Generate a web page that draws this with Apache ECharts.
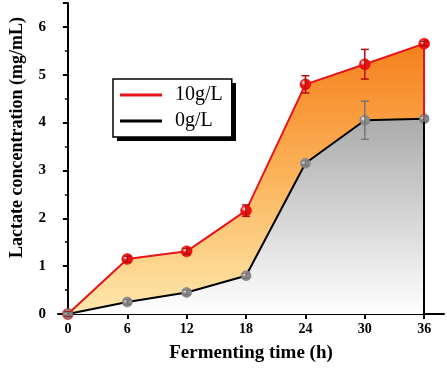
<!DOCTYPE html>
<html>
<head>
<meta charset="utf-8">
<script src="https://cdn.jsdelivr.net/npm/echarts@6/dist/echarts.min.js"></script>
<style>
  html, body { margin: 0; padding: 0; background: #fff; }
  #chart { width: 447px; height: 368px; }
</style>
</head>
<body>
<div id="chart"></div>
<script>
  // fermenting time (h)
  let hours = [0, 6, 12, 18, 24, 30, 36];
  let xTicks = [0, 6, 12, 18, 24, 30, 36];
  // lactate, 10g/L
  let lac10 = [0, 1.15, 1.31, 2.16, 4.80, 5.22, 5.65];
  let err10 = [0.05, 0.06, 0.06, 0.12, 0.18, 0.31, 0.05];
  // lactate, 0g/L
  let lac0 = [0, 0.25, 0.45, 0.80, 3.15, 4.05, 4.08];
  let err0 = [0.03, 0.05, 0.05, 0.05, 0.05, 0.40, 0.05];

  let font = '"Liberation Serif", "Times New Roman", serif';

  function pairs(xs, ys) {
    return xs.map(function (x, i) { return [x, ys[i]]; });
  }

  function sphere(c) {
    return {
      type: 'radial', x: 0.35, y: 0.35, r: 0.7,
      colorStops: [{offset: 0, color: '#ffffff'}, {offset: 0.35, color: c}, {offset: 1, color: c}]
    };
  }

  function errorBars(name, ys, es, color) {
    return {
      name: name + ' err',
      type: 'custom',
      z: 5,
      data: hours.map(function (x, i) { return [x, ys[i] - es[i], ys[i] + es[i]]; }),
      renderItem: function (params, api) {
        let lo = api.coord([api.value(0), api.value(1)]);
        let hi = api.coord([api.value(0), api.value(2)]);
        let w = 4;
        let st = {stroke: color, lineWidth: 1.5};
        return {
          type: 'group',
          children: [
            {type: 'line', shape: {x1: lo[0], y1: lo[1], x2: hi[0], y2: hi[1]}, style: st},
            {type: 'line', shape: {x1: lo[0] - w, y1: lo[1], x2: lo[0] + w, y2: lo[1]}, style: st},
            {type: 'line', shape: {x1: hi[0] - w, y1: hi[1], x2: hi[0] + w, y2: hi[1]}, style: st}
          ]
        };
      }
    };
  }

  let n = hours.length - 1;
  let myChart = echarts.init(document.getElementById('chart'));
  let option = {
    backgroundColor: '#ffffff',
    animation: false,
    grid: {left: 57, right: 3, top: 3, bottom: 53},
    // drop shadow behind the legend box
    graphic: [{
      type: 'rect',
      z: 1,
      left: 117,
      top: 83,
      shape: {width: 119, height: 58},
      style: {fill: '#000'}
    }],
    legend: {
      orient: 'vertical',
      left: 113,
      top: 79,
      z: 10,
      padding: [5, 9, 5, 7],
      itemGap: 4,
      itemWidth: 42,
      itemHeight: 3,
      icon: 'rect',
      backgroundColor: '#fff',
      borderColor: '#000',
      borderWidth: 1.5,
      borderRadius: 0,
      textStyle: {fontFamily: font, fontSize: 20, lineHeight: 22, color: '#000', padding: [0, 0, 0, 8]},
      data: [
        {name: '10g/L', icon: 'rect', itemStyle: {color: '#e8141b', borderWidth: 0}},
        {name: '0g/L', icon: 'rect', itemStyle: {color: '#000', borderWidth: 0}}
      ]
    },
    xAxis: {
      type: 'value',
      min: -1,
      max: 38,
      interval: 6,
      name: 'Fermenting time (h)',
      nameLocation: 'middle',
      nameGap: 30,
      nameTextStyle: {fontFamily: font, fontSize: 19, fontWeight: 'bold', color: '#000'},
      axisLine: {lineStyle: {color: '#000', width: 2}},
      axisTick: {show: true, length: 5, lineStyle: {width: 2}, customValues: xTicks},
      axisLabel: {
        fontFamily: font, fontSize: 14, fontWeight: 'bold', color: '#000', margin: 8,
        customValues: xTicks
      },
      splitLine: {show: false}
    },
    yAxis: {
      type: 'value',
      min: 0,
      max: 6.5,
      interval: 1,
      name: 'Lactate concentration (mg/mL)',
      nameLocation: 'middle',
      nameGap: 32,
      nameTextStyle: {fontFamily: font, fontSize: 18, fontWeight: 'bold', color: '#000', padding: [0, 0, 0, 42]},
      axisLine: {show: true, lineStyle: {color: '#000', width: 2}},
      axisTick: {show: true, length: 5, lineStyle: {width: 2}},
      minorTick: {show: true, splitNumber: 2, length: 3, lineStyle: {color: '#000', width: 1.5}},
      axisLabel: {
        fontFamily: font, fontSize: 15, fontWeight: 'bold', color: '#000', margin: 12,
        formatter: function (v) { return Number.isInteger(v) ? String(v) : ''; }
      },
      splitLine: {show: false}
    },
    series: [
      {
        name: '10g/L',
        type: 'line',
        z: 2,
        legendIcon: 'rect',
        data: pairs(hours, lac10),
        symbol: 'circle',
        symbolSize: 11,
        itemStyle: {color: sphere('#ee1111'), borderColor: '#e00', borderWidth: 0.5},
        lineStyle: {color: '#e8141b', width: 2},
        areaStyle: {
          opacity: 1,
          color: {
            type: 'linear', x: 0, y: 0, x2: 0, y2: 1,
            colorStops: [
              {offset: 0, color: '#f5801c'},
              {offset: 0.5, color: '#fbb55c'},
              {offset: 1, color: '#fee8ad'}
            ]
          }
        },
        markLine: {
          silent: true,
          symbol: 'none',
          label: {show: false},
          lineStyle: {color: '#e8141b', width: 2, type: 'solid'},
          data: [[{coord: [hours[n], 0]}, {coord: [hours[n], lac10[n]]}]]
        }
      },
      {
        name: '0g/L',
        type: 'line',
        z: 3,
        legendIcon: 'rect',
        data: pairs(hours, lac0),
        symbol: 'circle',
        symbolSize: 10,
        itemStyle: {color: sphere('#8a8a8a'), borderColor: '#777', borderWidth: 0.5},
        lineStyle: {color: '#000', width: 2},
        areaStyle: {
          opacity: 1,
          color: {
            type: 'linear', x: 0, y: 0, x2: 0, y2: 1,
            colorStops: [
              {offset: 0, color: '#ababab'},
              {offset: 1, color: '#ffffff'}
            ]
          }
        },
        markLine: {
          silent: true,
          symbol: 'none',
          label: {show: false},
          lineStyle: {color: '#000', width: 2, type: 'solid'},
          data: [[{coord: [hours[n], 0]}, {coord: [hours[n], lac0[n]]}]]
        }
      },
      errorBars('10g/L', lac10, err10, '#b01010'),
      errorBars('0g/L', lac0, err0, '#777777')
    ]
  };
  myChart.setOption(option, true);
</script>
</body>
</html>
